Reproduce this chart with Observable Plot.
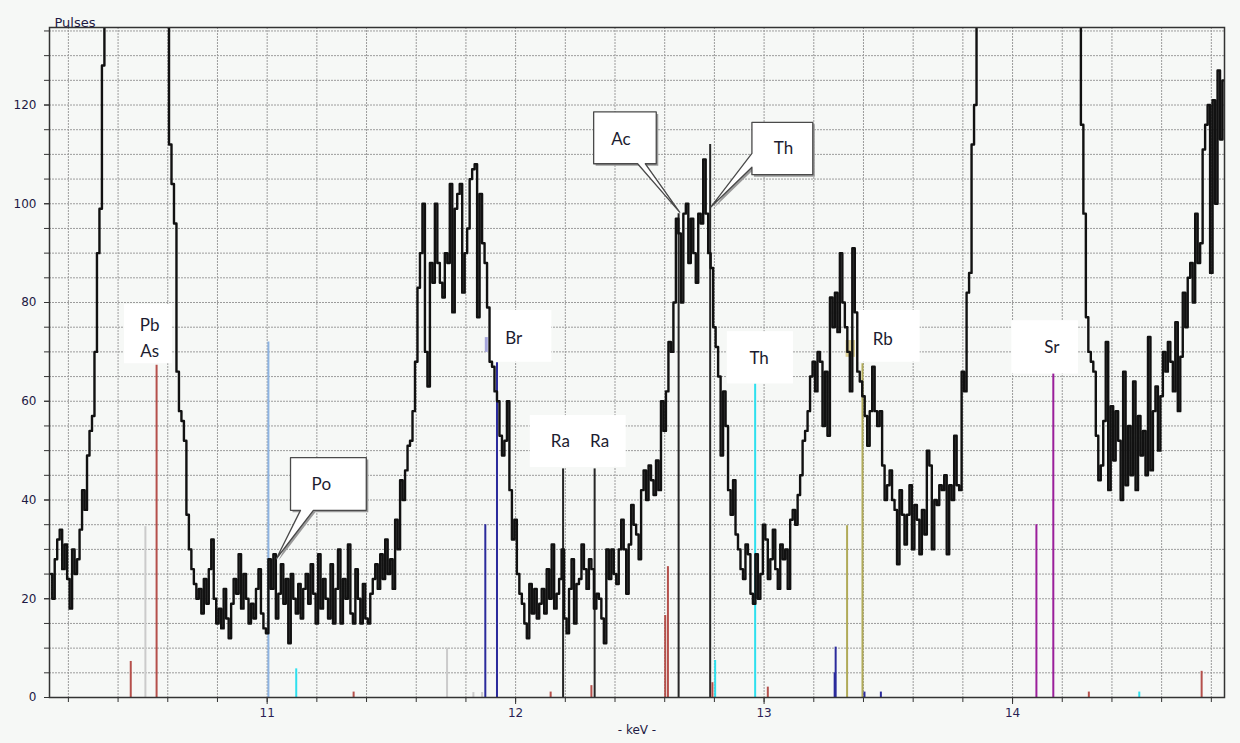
<!DOCTYPE html>
<html><head><meta charset="utf-8">
<script src="https://cdn.jsdelivr.net/npm/d3@7"></script>
<script src="https://cdn.jsdelivr.net/npm/@observablehq/plot@0.6"></script>
<style>
html,body{margin:0;padding:0;background:#f6f8f6;overflow:hidden;}
#chart svg{display:block;}
</style></head><body><div id="chart"></div>
<script>
// ---- spectrum: one value per 10 eV channel, starting at 10.13 keV ----
const channelStartKeV = 10.13;
const channelWidthKeV = 0.01;
const pulses = [
  // 10.13
  25,20,28,32,34,26,31,24,18,30, 25,28,34,42,38,49,54,57,70,90, 99,128,
  // 10.35 (off scale: Pb La / As Ka)
  170,230,300,370,430,480,520,540,550,545, 530,510,490,470,460,460,470,480,470,440, 390,320,260,200,160,145,
  // 10.61
  112,104,96,66,58,56,52,37,30,26,23,20,
  // 10.73
  22,17,24,19,26,32,20,15,18,14, 22,16,12,19,24,21,29,18,25,20,
  15,19,16,22,26,17,14,13,28,22, 29,16,21,27,19,24,11,25,20,17,
  23,16,22,25,19,27,21,15,29,18, 24,20,16,27,15,22,30,15,24,20,
  31,17,15,26,20,15,23,16,15,21, 24,27,22,29,24,32,25,28,22,36,
  30,44,40,
  // 11.56
  46,51,52,58,68,83,90,
  // 11.63
  100,70,63,88,84,100,88,84,81,90, 88,104,78,99,102,104,82,90,95,105,
  107,108,77,102,92,88,79,68,67,62, 60,53,49,52,60,42,32,36,25,21,
  19,15,12,23,17,22,16,19,22,17, 26,20,31,18,21,24,30,16,13,22,
  28,15,23,24,31,26,22,28,26,18, 21,20,16,11,30,24,30,25,23,30,
  36,30,21,31,39,35,33,28,42,46, 40,47,44,41,48,42,60,54,62,72,
  70,80,97,94,80,98,100,88,97,90, 84,98,96,109,98,90,87,75,71,65,
  49,62,55,42,37,44,33,30,26,24, 31,29,21,19,29,20,25,35,32,24,
  28,34,26,22,31,28,30,22,36,38, 35,41,45,52,54,58,65,68,62,70,
  68,
  // 13.24
  55,66,53,81,75,82,74,90,80,75, 70,62,91,78,66,64,61,57,51,58,
  67,58,55,58,47,40,43,46,40,38, 27,42,37,31,37,43,30,39,36,29,
  38,33,50,47,30,40,39,43,42,45, 29,43,40,53,43,42,66,62,82,86,
  112,120,160,
  // 13.87 (off scale)
  180,230,290,350,410,470,520,570,610,640, 660,670,670,660,640,620,600,580,560,540,
  520,500,480,460,440,420,400,380,360,340, 320,300,280,260,240,220,200,185,170,155,
  150,
  // 14.28
  116,98,77,70,68,66,53,44,47,56, 72,42,59,48,58,52,40,66,43,55,
  45,64,42,57,49,54,45,73,46,58, 63,50,61,70,66,72,68,62,76,58,
  69,82,75,85,88,80,98,88,92,111, 116,120,86,121,100,127,113,125
];

// ---- element line markers ----
const markerKeV    = [10.451,10.510,10.555,11.005,11.117,11.348,11.724,11.830,11.865,11.878,11.925,12.141,12.191,12.305,12.318,12.602,12.613,12.656,12.783,12.792,12.803,12.964,13.015,13.284,13.288,13.334,13.396,13.404,13.470,14.096,14.164,14.307,14.510,14.761];
const markerPulses = [7.3,34.6,67.3,72,5.8,1.1,10,1,1,35,67.8,1.1,46.3,2.4,46.3,16.6,26.5,98,112,3,7.5,63.5,2.1,5,10.2,34.8,67.6,1.1,1.1,35,65.6,1.1,1.1,5.3];
const markerElement = ["Pb","As","Pb","Po","Th","Pb","As","As","As","Br","Br","Pb","Ra","Pb","Ra","Pb","Pb","Ac","Th L","Pb","Th","Th","Pb","Br","Br","Rb","Rb","Br","Br","Sr","Sr","Pb","Th","Pb"];
const elementNames  = ["Pb","As","Po","Th","Br","Ra","Ac","Th L","Rb","Sr"];

// ---- plain label boxes (keV / pulses) ----
const boxKeV1 = [10.426,11.890,12.059,12.852,13.377,13.997];
const boxKeV2 = [10.619,12.146,12.445,13.118,13.628,14.265];
const boxLow  = [67.6,67.9,46.6,63.5,67.9,65.5];
const boxHigh = [79.6,78.4,57.1,74.1,78.4,76.3];
const labelText  = ["Pb","As","Br","Ra","Ra","Th","Rb","Sr"];
const labelKeV   = [10.527,10.527,11.992,12.180,12.338,12.980,13.478,14.158];
const labelPulse = [75.3,70.1,72.7,51.8,51.8,68.6,72.6,70.9];

// small tinted strips at the top of the Br and Rb lines
const tintKeV1 = [11.878,13.330];
const tintKeV2 = [11.894,13.368];
const tintLow  = [69.9,68.9];
const tintHigh = [72.9,72.3];
const tintElement = ["Br","Rb"];

// ---- callouts ----
const calloutText  = ["Po","Ac","Th"];
const calloutKeV1  = [11.094,12.314,12.951];
const calloutKeV2  = [11.399,12.566,13.196];
const calloutLow   = [37.9,108.1,105.9];
const calloutHigh  = [48.6,118.6,116.5];
const calloutSide  = ["bottom","bottom","left"];
const calloutBaseA = [11.134,12.491,107.4];
const calloutBaseB = [11.186,12.522,110.2];
const calloutTipKeV   = [11.037,12.660,12.787];
const calloutTipPulse = [28.1,98.3,99.4];
const calloutTextKeV   = [11.218,12.424,13.078];
const calloutTextPulse = [43.1,113.1,111.1];

// ---- axes ----
const xDomain = [10.124,14.853];
const yDomain = [0,135.7];
const xLabelTicks = [11,12,13,14];
const xMinorTicks = [10.2,10.4,10.6,10.8,11,11.2,11.4,11.6,11.8,12,12.2,12.4,12.6,12.8,13,13.2,13.4,13.6,13.8,14,14.2,14.4,14.6,14.8];
const yLabelTicks = [0,20,40,60,80,100,120];
const yMinorTicks = [0,5,10,15,20,25,30,35,40,45,50,55,60,65,70,75,80,85,90,95,100,105,110,115,120,125,130,135];

// ---- build tables ----
const spectrum = pulses.map((p,i)=>({keV: channelStartKeV + i*channelWidthKeV, p}));
const markers = markerKeV.map((k,i)=>({k, h: markerPulses[i], el: markerElement[i]}));
const boxes = boxKeV1.map((k,i)=>({x1:k, x2:boxKeV2[i], y1:boxLow[i], y2:boxHigh[i]}));
const labels = labelText.map((t,i)=>({t, x: labelKeV[i], y: labelPulse[i]}));
const tints = tintKeV1.map((k,i)=>({x1:k, x2:tintKeV2[i], y1:tintLow[i], y2:tintHigh[i], el: tintElement[i]}));
const calloutPts = [];
calloutText.forEach((t,i)=>{
  const x1=calloutKeV1[i], x2=calloutKeV2[i], y1=calloutLow[i], y2=calloutHigh[i];
  const tip=[calloutTipKeV[i], calloutTipPulse[i]];
  let pts;
  if (calloutSide[i]==="bottom") {
    pts=[[x1,y2],[x2,y2],[x2,y1],[calloutBaseB[i],y1],tip,[calloutBaseA[i],y1],[x1,y1]];
  } else {
    pts=[[x1,y2],[x2,y2],[x2,y1],[x1,y1],[x1,calloutBaseA[i]],tip,[x1,calloutBaseB[i]]];
  }
  pts.forEach(([x,y])=>calloutPts.push({id:t+i, x, y}));
});
const calloutLabels = calloutText.map((t,i)=>({t, x: calloutTextKeV[i], y: calloutTextPulse[i]}));

const lineColors = ["#b5504b","#cbcbcb","#8db3e2","#2ee0ee","#2b2b9c","#262626","#262626","#262626","#b0aa58","#9b1f9b"];
const tintColors = {Br:"#a6a6dc", Rb:"#dccf94"};

const gridStyle = {stroke:"#9c9c9c", strokeOpacity:1, strokeWidth:1, strokeDasharray:"2,1"};
const labelFont = "Lato, 'Open Sans', sans-serif";

const chart = Plot.plot({
  width: 1240, height: 743,
  marginLeft: 49, marginRight: 16, marginTop: 27, marginBottom: 46,
  style: {background:"#f6f8f6", fontFamily:"'DejaVu Sans', Verdana, sans-serif", fontSize:"12px", color:"#1e1a44"},
  x: {domain: xDomain, label: null},
  y: {domain: yDomain, label: null},
  color: {domain: elementNames, range: lineColors},
  marks: [
    Plot.gridX(xMinorTicks, gridStyle),
    Plot.gridY(yMinorTicks, gridStyle),
    Plot.ruleX(markers, {x:"k", y1:0, y2:"h", stroke:"el", strokeWidth:2}),
    Plot.rect(tints, {x1:"x1", x2:"x2", y1:"y1", y2:"y2", fill: d=>tintColors[d.el]}),
    Plot.rect(boxes, {x1:"x1", x2:"x2", y1:"y1", y2:"y2", fill:"white"}),
    Plot.text(labels, {x:"x", y:"y", text:"t", fontSize:17, fontFamily:labelFont, fill:"#1c1c30"}),
    Plot.line(spectrum, {x:"keV", y:"p", curve:"step", stroke:"#111", strokeWidth:2.4, clip:true}),
    Plot.line(calloutPts, {x:"x", y:"y", z:"id", curve:"linear-closed", fill:"#9a9a9a", stroke:"none", dx:2, dy:2}),
    Plot.line(calloutPts, {x:"x", y:"y", z:"id", curve:"linear-closed", fill:"white", stroke:"#4a4a4a", strokeWidth:1.3}),
    Plot.text(calloutLabels, {x:"x", y:"y", text:"t", fontSize:17, fontFamily:labelFont, fill:"#1c1c30"}),
    Plot.axisX(xMinorTicks, {tickSize:5, tickFormat:()=>"", stroke:"#333"}),
    Plot.axisX(xLabelTicks, {tickSize:7, tickPadding:4, tickFormat:d=>String(d), stroke:"#333", fill:"#2a1f55"}),
    Plot.axisY(yMinorTicks, {tickSize:5, tickFormat:()=>"", stroke:"#333"}),
    Plot.axisY(yLabelTicks, {tickSize:5, tickPadding:8, tickFormat:d=>String(d), stroke:"#333", fill:"#1e1a44"}),
    Plot.frame({stroke:"#333", strokeWidth:1.5}),
    Plot.text(["Pulses"], {frameAnchor:"top-left", dx:5, dy:-10, textAnchor:"start", fontSize:13, fill:"#1e1a44"}),
    Plot.text(["- keV -"], {frameAnchor:"bottom", dy:36, fontSize:12, fill:"#1e1a44"})
  ]
});
document.getElementById("chart").appendChild(chart);
</script></body></html>
